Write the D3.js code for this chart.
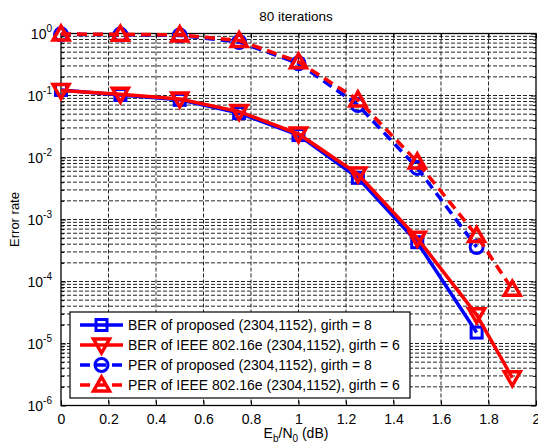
<!DOCTYPE html>
<html>
<head>
<meta charset="utf-8">
<script src="https://cdn.jsdelivr.net/npm/d3@7"></script>
<style>
  body { margin: 0; background: #fff; }
  svg text { font-family: "Liberation Sans", Arial, sans-serif; fill: #000; }
</style>
</head>
<body>
<div id="chart"></div>
<script>
var svgWidth = 538;
var svgHeight = 445;

var margin = { top: 33.5, right: 2, bottom: 39.5, left: 61 };
var width = svgWidth - margin.left - margin.right;
var height = svgHeight - margin.top - margin.bottom;

// data
var ebno = [0, 0.25, 0.5, 0.75, 1, 1.25, 1.5, 1.75];
var ebnoLong = [0, 0.25, 0.5, 0.75, 1, 1.25, 1.5, 1.75, 1.9];
var berProposed = [0.123, 0.102, 0.085, 0.052, 0.023, 0.0047, 0.00043, 0.000015];
var berIeee = [0.12, 0.105, 0.088, 0.055, 0.024, 0.0054, 0.0005, 0.000029, 0.0000028];
var perProposed = [0.97, 0.96, 0.93, 0.73, 0.33, 0.07, 0.0068, 0.00036];
var perIeee = [0.98, 0.97, 0.95, 0.77, 0.35, 0.085, 0.0085, 0.00055, 0.000075];

var xTicks = [0, 0.2, 0.4, 0.6, 0.8, 1, 1.2, 1.4, 1.6, 1.8, 2];
var yExps = [0, -1, -2, -3, -4, -5, -6];
var legendLabels = [
  "BER of proposed (2304,1152), girth = 8",
  "BER of IEEE 802.16e (2304,1152), girth = 6",
  "PER of proposed (2304,1152), girth = 8",
  "PER of IEEE 802.16e (2304,1152), girth = 6"
];

var series = [
  { x: ebno, y: berProposed, color: "#0000ff", dash: null, marker: "square" },
  { x: ebnoLong, y: berIeee, color: "#ff0000", dash: null, marker: "down" },
  { x: ebno, y: perProposed, color: "#0000ff", dash: "10,6", marker: "circle" },
  { x: ebnoLong, y: perIeee, color: "#ff0000", dash: "10,6", marker: "up" }
];

var svg = d3.select("#chart").append("svg")
  .attr("width", svgWidth)
  .attr("height", svgHeight);

var chartGroup = svg.append("g")
  .attr("transform", `translate(${margin.left}, ${margin.top})`);

var xScale = d3.scaleLinear().domain([0, 2]).range([0, width]);
var yScale = d3.scaleLog().domain([1e-6, 1]).range([height, 0]);

// minor values for the log grid
var minorVals = [];
yExps.slice(0, -1).forEach(function (e) {
  for (var k = 2; k <= 9; k++) minorVals.push(k * Math.pow(10, e - 1));
});

// grid
var grid = chartGroup.append("g")
  .attr("stroke", "#000")
  .attr("stroke-width", 1)
  .attr("stroke-dasharray", "4,2")
  .attr("opacity", 0.85);

grid.selectAll(".vg").data(xTicks.slice(1, -1)).enter().append("line")
  .attr("x1", d => xScale(d)).attr("x2", d => xScale(d))
  .attr("y1", 0).attr("y2", height);

grid.selectAll(".hg").data(yExps.slice(1, -1).map(e => Math.pow(10, e)).concat(minorVals)).enter().append("line")
  .attr("x1", 0).attr("x2", width)
  .attr("y1", d => yScale(d)).attr("y2", d => yScale(d));

// axes
var bottomAxis = d3.axisBottom(xScale).tickValues(xTicks).tickSize(-5).tickPadding(9)
  .tickFormat(d3.format("~g"));
var xg = chartGroup.append("g").attr("transform", `translate(0, ${height})`).call(bottomAxis);
xg.select(".domain").remove();
xg.selectAll("text").style("font-size", "14px").style("font-family", "Liberation Sans, Arial, sans-serif");

var topAxis = d3.axisTop(xScale).tickValues(xTicks).tickSize(-5).tickFormat("");
chartGroup.append("g").call(topAxis).select(".domain").remove();

var yTickVals = yExps.map(e => Math.pow(10, e));
var leftAxis = d3.axisLeft(yScale).tickValues(yTickVals).tickSize(-5).tickFormat("");
chartGroup.append("g").call(leftAxis).select(".domain").remove();
var rightAxis = d3.axisRight(yScale).tickValues(yTickVals).tickSize(-5).tickFormat("");
chartGroup.append("g").attr("transform", `translate(${width},0)`).call(rightAxis).select(".domain").remove();

var leftMinor = d3.axisLeft(yScale).tickValues(minorVals).tickSize(-3).tickFormat("");
chartGroup.append("g").call(leftMinor).select(".domain").remove();
var rightMinor = d3.axisRight(yScale).tickValues(minorVals).tickSize(-3).tickFormat("");
chartGroup.append("g").attr("transform", `translate(${width},0)`).call(rightMinor).select(".domain").remove();

chartGroup.selectAll(".tick line").attr("stroke", "#000");

// y tick labels: 10 with superscript
var ylab = chartGroup.selectAll(".ylab").data(yExps).enter().append("text")
  .attr("x", -9)
  .attr("y", d => yScale(Math.pow(10, d)) + 5)
  .attr("text-anchor", "end")
  .style("font-size", "14px");
ylab.append("tspan").text("10");
ylab.append("tspan").attr("dy", -7).style("font-size", "10px").text(d => d);

// box
chartGroup.append("rect")
  .attr("width", width).attr("height", height)
  .attr("fill", "none").attr("stroke", "#000").attr("stroke-width", 1.3);

// markers
function drawMarker(g, type, color) {
  if (type === "square") {
    g.append("rect").attr("x", -5.5).attr("y", -5.5).attr("width", 11).attr("height", 11)
      .attr("fill", "none").attr("stroke", color).attr("stroke-width", 3);
  } else if (type === "circle") {
    g.append("circle").attr("r", 6.5)
      .attr("fill", "none").attr("stroke", color).attr("stroke-width", 3);
  } else if (type === "down") {
    g.append("path").attr("d", "M-8,-6L8,-6L0,8Z")
      .attr("fill", "none").attr("stroke", color).attr("stroke-width", 3.5).attr("stroke-linejoin", "miter");
  } else {
    g.append("path").attr("d", "M-8,6L8,6L0,-8Z")
      .attr("fill", "none").attr("stroke", color).attr("stroke-width", 3.5).attr("stroke-linejoin", "miter");
  }
}

var line = d3.line().x(d => xScale(d[0])).y(d => yScale(d[1]));

series.forEach(function (s) {
  var pts = s.x.map((v, i) => [v, s.y[i]]);
  chartGroup.append("path")
    .datum(pts)
    .attr("d", line)
    .attr("fill", "none")
    .attr("stroke", s.color)
    .attr("stroke-width", 3.5)
    .attr("stroke-dasharray", s.dash);
  pts.forEach(function (p) {
    var g = chartGroup.append("g").attr("transform", `translate(${xScale(p[0])},${yScale(p[1])})`);
    drawMarker(g, s.marker, s.color);
  });
});

// legend
var legend = svg.append("g").attr("transform", "translate(70, 312)");
legend.append("rect").attr("width", 340).attr("height", 86)
  .attr("fill", "#fff").attr("stroke", "#000").attr("stroke-width", 1.2);

series.forEach(function (s, i) {
  var row = legend.append("g").attr("transform", `translate(0, ${13 + i * 20})`);
  row.append("line").attr("x1", 10).attr("x2", 53).attr("y1", 0).attr("y2", 0)
    .attr("stroke", s.color).attr("stroke-width", 3.5).attr("stroke-dasharray", s.dash);
  drawMarker(row.append("g").attr("transform", "translate(31.5,0)"), s.marker, s.color);
  row.append("text").attr("x", 58).attr("y", 5).style("font-size", "14px").text(legendLabels[i]);
});

// title
svg.append("text").attr("x", 296).attr("y", 21).attr("text-anchor", "middle")
  .style("font-size", "13.5px").text("80 iterations");

// axis labels
var xl = svg.append("text").attr("x", 296).attr("y", 438).attr("text-anchor", "middle")
  .style("font-size", "14px");
xl.append("tspan").text("E");
xl.append("tspan").attr("dy", 4).style("font-size", "10px").text("b");
xl.append("tspan").attr("dy", -4).text("/N");
xl.append("tspan").attr("dy", 4).style("font-size", "10px").text("0");
xl.append("tspan").attr("dy", -4).text(" (dB)");

svg.append("text")
  .attr("transform", "rotate(-90)")
  .attr("x", -(margin.top + height / 2))
  .attr("y", 19)
  .attr("text-anchor", "middle")
  .style("font-size", "13px")
  .text("Error rate");
</script>
</body>
</html>
